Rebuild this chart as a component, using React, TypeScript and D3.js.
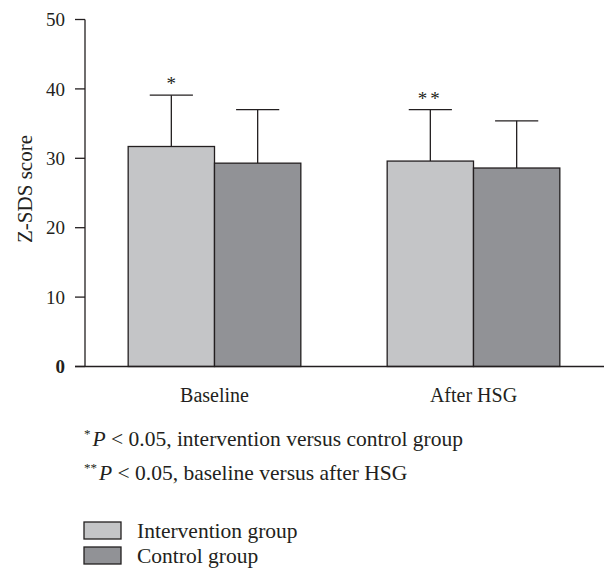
import React from "react";
import * as d3 from "d3";

const WIDTH = 604;
const HEIGHT = 570;
const FONT = "'Liberation Serif', 'DejaVu Serif', serif";
const INK = "#231f20";

// chart data
const groups = ["Baseline", "After HSG"];
const series = ["Intervention group", "Control group"];
const seriesColors = ["#c4c5c7", "#919296"];
const interventionMean = [31.7, 29.6];
const interventionSD = [7.4, 7.4];
const controlMean = [29.3, 28.6];
const controlSD = [7.7, 6.8];
const interventionMarks = ["*", "**"];
const yTicks = [0, 10, 20, 30, 40, 50];

export default function App() {
  // scales
  const yScale = d3.scaleLinear().domain([0, 50]).range([366.5, 19.5]);
  const xScale = d3
    .scaleBand()
    .domain(groups)
    .range([85, 603])
    .paddingInner(1 / 3)
    .paddingOuter(1 / 6);
  const inner = d3.scaleBand().domain(series).range([0, xScale.bandwidth()]);
  const barW = inner.bandwidth();

  // flatten bars
  const bars = groups.flatMap((g, i) => [
    { group: g, s: series[0], mean: interventionMean[i], sd: interventionSD[i], mark: interventionMarks[i], color: seriesColors[0] },
    { group: g, s: series[1], mean: controlMean[i], sd: controlSD[i], mark: "", color: seriesColors[1] },
  ]);

  return (
    <svg
      width={WIDTH}
      height={HEIGHT}
      style={{ position: "absolute", left: 0, top: 0, background: "#fff" }}
      fontFamily={FONT}
    >
      {/* bars with error bars */}
      {bars.map((d) => {
        const x = (xScale(d.group) ?? 0) + (inner(d.s) ?? 0);
        const cx = x + barW / 2;
        const yTop = yScale(d.mean);
        const yErr = yScale(d.mean + d.sd);
        return (
          <g key={d.group + d.s}>
            <line x1={cx} x2={cx} y1={yTop} y2={yErr} stroke={INK} strokeWidth={1.3} />
            <line x1={cx - barW / 4} x2={cx + barW / 4} y1={yErr} y2={yErr} stroke={INK} strokeWidth={1.3} />
            <rect
              x={x}
              y={yTop}
              width={barW}
              height={yScale(0) - yTop}
              fill={d.color}
              stroke={INK}
              strokeWidth={1.3}
            />
            {d.mark && (
              <text
                x={cx}
                y={yErr - 5}
                textAnchor="middle"
                fontSize={19}
                fill={INK}
                letterSpacing={d.mark.length > 1 ? 3 : 0}
              >
                {d.mark}
              </text>
            )}
          </g>
        );
      })}

      {/* y axis */}
      <line x1={85} x2={85} y1={yScale(50)} y2={yScale(0)} stroke={INK} strokeWidth={1.3} />
      {yTicks.map((t) => (
        <g key={t}>
          <line x1={75} x2={85} y1={yScale(t)} y2={yScale(t)} stroke={INK} strokeWidth={1.3} />
          <text
            x={65}
            y={yScale(t)}
            dy="0.35em"
            textAnchor="end"
            fontSize={19}
            fontWeight={t === 0 ? "bold" : "normal"}
            fill={INK}
          >
            {t}
          </text>
        </g>
      ))}
      <text
        transform={`translate(32,189) rotate(-90)`}
        textAnchor="middle"
        fontSize={21}
        fill={INK}
      >
        Z-SDS score
      </text>

      {/* x axis */}
      <line x1={75} x2={604} y1={yScale(0)} y2={yScale(0)} stroke={INK} strokeWidth={1.3} />
      {groups.map((g) => (
        <text
          key={g}
          x={(xScale(g) ?? 0) + xScale.bandwidth() / 2}
          y={402}
          textAnchor="middle"
          fontSize={20}
          fill={INK}
        >
          {g}
        </text>
      ))}

      {/* footnotes */}
      <text x={84} y={446} fontSize={21.5} fill={INK}>
        <tspan fontSize={13} dy={-8}>*</tspan>
        <tspan dy={8} dx={2} fontStyle="italic">P</tspan>
        <tspan> &lt; 0.05, intervention versus control group</tspan>
      </text>
      <text x={84} y={480} fontSize={21.5} fill={INK}>
        <tspan fontSize={13} dy={-8}>**</tspan>
        <tspan dy={8} dx={2} fontStyle="italic">P</tspan>
        <tspan> &lt; 0.05, baseline versus after HSG</tspan>
      </text>

      {/* legend */}
      {series.map((s, i) => (
        <g key={s}>
          <rect
            x={84}
            y={522 + i * 25}
            width={37}
            height={17}
            fill={seriesColors[i]}
            stroke={INK}
            strokeWidth={1.3}
          />
          <text x={137} y={538 + i * 25} fontSize={21.5} fill={INK}>
            {s}
          </text>
        </g>
      ))}
    </svg>
  );
}
